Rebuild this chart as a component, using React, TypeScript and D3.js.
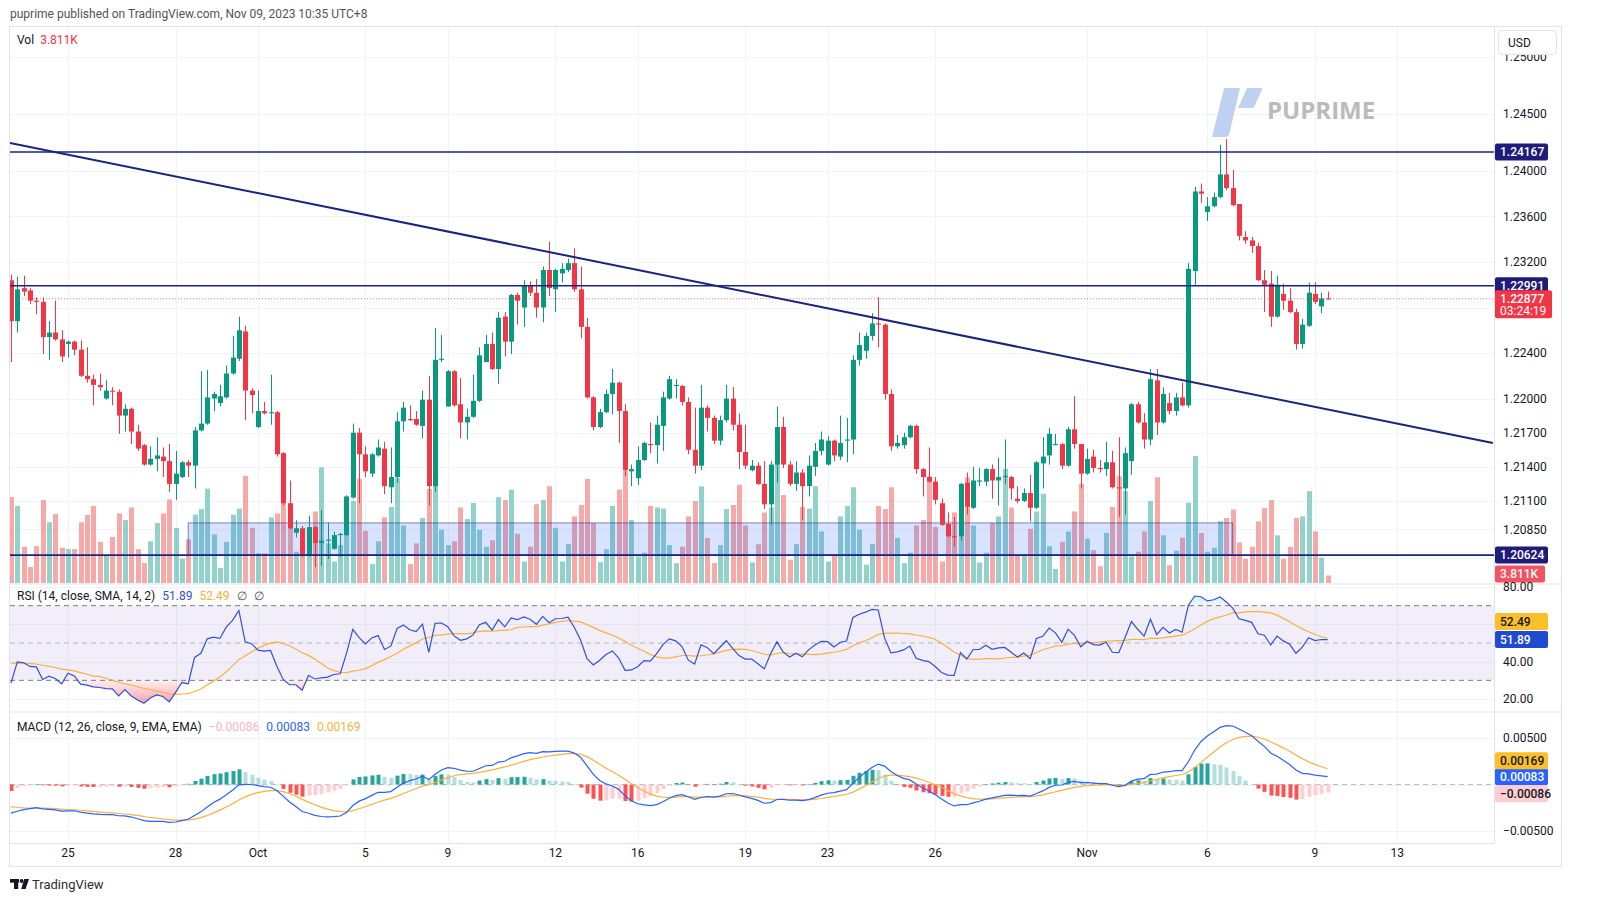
import React, { useEffect } from 'react';
import * as d3 from 'd3';

// GBPUSD 4H candles (oldest first)
const opens = [
  1.2304, 1.2268, 1.2297, 1.2295, 1.2286, 1.2285, 1.2254, 1.2258, 1.2252, 1.2248,
  1.2250, 1.2243, 1.2220, 1.2217, 1.2212, 1.2200, 1.2207, 1.2206, 1.2185, 1.2191,
  1.2171, 1.2159, 1.2142, 1.2147, 1.2149, 1.2145, 1.2125, 1.2131, 1.2144, 1.2141,
  1.2172, 1.2178, 1.2200, 1.2196, 1.2201, 1.2222, 1.2235, 1.2259, 1.2207, 1.2175,
  1.2189, 1.2187, 1.2188, 1.2152, 1.2108, 1.2082, 1.2086, 1.2062, 1.2087, 1.2073,
  1.2075, 1.2068, 1.2080, 1.2080, 1.2113, 1.2170, 1.2151, 1.2134, 1.2150, 1.2156,
  1.2122, 1.2131, 1.2180, 1.2182, 1.2182, 1.2176, 1.2199, 1.2123, 1.2234, 1.2193,
  1.2224, 1.2195, 1.2179, 1.2184, 1.2198, 1.2232, 1.2248, 1.2226, 1.2272, 1.2250,
  1.2291, 1.2280, 1.2299, 1.2293, 1.2280, 1.2313, 1.2296, 1.2310, 1.2313, 1.2319,
  1.2296, 1.2263, 1.2201, 1.2175, 1.2188, 1.2204, 1.2214, 1.2189, 1.2136, 1.2130,
  1.2146, 1.2160, 1.2159, 1.2176, 1.2200, 1.2211, 1.2211, 1.2197, 1.2155, 1.2141,
  1.2192, 1.2183, 1.2163, 1.2181, 1.2200, 1.2177, 1.2153, 1.2137, 1.2141, 1.2125,
  1.2107, 1.2142, 1.2175, 1.2142, 1.2125, 1.2135, 1.2123, 1.2140, 1.2154, 1.2142,
  1.2163, 1.2149, 1.2163, 1.2164, 1.2234, 1.2242, 1.2255, 1.2266, 1.2265, 1.2204,
  1.2158, 1.2159, 1.2166, 1.2176, 1.2138, 1.2131, 1.2127, 1.2108, 1.2090, 1.2079,
  1.2079, 1.2126, 1.2104, 1.2127, 1.2127, 1.2138, 1.2128, 1.2131, 1.2131, 1.2112,
  1.2110, 1.2117, 1.2104, 1.2143, 1.2150, 1.2159, 1.2160, 1.2141, 1.2173, 1.2160,
  1.2134, 1.2149, 1.2139, 1.2138, 1.2144, 1.2122, 1.2121, 1.2145, 1.2195, 1.2179,
  1.2164, 1.2216, 1.2179, 1.2196, 1.2189, 1.2201, 1.2194, 1.2312, 1.2382, 1.2364,
  1.2369, 1.2377, 1.2397, 1.2385, 1.2371, 1.2342, 1.2339, 1.2334, 1.2304, 1.2301,
  1.2272, 1.2292, 1.2286, 1.2276, 1.2248, 1.2264, 1.2292, 1.2281, 1.2288,
];
const highs = [
  1.2309, 1.2307, 1.2308, 1.2297, 1.2289, 1.2289, 1.2268, 1.2286, 1.2260, 1.2251,
  1.2251, 1.2251, 1.2245, 1.2221, 1.2222, 1.2216, 1.2210, 1.2208, 1.2195, 1.2192,
  1.2177, 1.2160, 1.2158, 1.2166, 1.2157, 1.2160, 1.2154, 1.2145, 1.2146, 1.2175,
  1.2224, 1.2225, 1.2206, 1.2212, 1.2229, 1.2255, 1.2272, 1.2264, 1.2209, 1.2207,
  1.2197, 1.2221, 1.2189, 1.2153, 1.2128, 1.2093, 1.2088, 1.2097, 1.2088, 1.2102,
  1.2091, 1.2083, 1.2082, 1.2115, 1.2178, 1.2174, 1.2158, 1.2152, 1.2164, 1.2162,
  1.2157, 1.2188, 1.2197, 1.2194, 1.2189, 1.2207, 1.2220, 1.2262, 1.2256, 1.2225,
  1.2225, 1.2218, 1.2191, 1.2221, 1.2245, 1.2256, 1.2258, 1.2276, 1.2276, 1.2292,
  1.2293, 1.2304, 1.2303, 1.2305, 1.2316, 1.2338, 1.2314, 1.2319, 1.2323, 1.2332,
  1.2316, 1.2271, 1.2202, 1.2191, 1.2208, 1.2226, 1.2215, 1.2195, 1.2142, 1.2158,
  1.2162, 1.2179, 1.2185, 1.2206, 1.2220, 1.2217, 1.2212, 1.2201, 1.2192, 1.2212,
  1.2194, 1.2185, 1.2185, 1.2212, 1.2210, 1.2187, 1.2177, 1.2146, 1.2144, 1.2145,
  1.2145, 1.2193, 1.2184, 1.2145, 1.2145, 1.2138, 1.2150, 1.2161, 1.2171, 1.2167,
  1.2164, 1.2185, 1.2183, 1.2238, 1.2258, 1.2258, 1.2275, 1.2289, 1.2266, 1.2208,
  1.2168, 1.2170, 1.2177, 1.2177, 1.2139, 1.2157, 1.2131, 1.2112, 1.2100, 1.2096,
  1.2126, 1.2135, 1.2140, 1.2139, 1.2139, 1.2142, 1.2148, 1.2164, 1.2132, 1.2123,
  1.2121, 1.2133, 1.2145, 1.2166, 1.2174, 1.2169, 1.2161, 1.2175, 1.2202, 1.2160,
  1.2156, 1.2155, 1.2146, 1.2162, 1.2154, 1.2166, 1.2157, 1.2196, 1.2197, 1.2187,
  1.2226, 1.2226, 1.2210, 1.2205, 1.2205, 1.2214, 1.2319, 1.2386, 1.2389, 1.2377,
  1.2381, 1.2423, 1.2428, 1.2401, 1.2371, 1.2347, 1.2342, 1.2337, 1.2313, 1.2312,
  1.2308, 1.2301, 1.2297, 1.2279, 1.2270, 1.2302, 1.2302, 1.2293, 1.2294,
];
const lows = [
  1.2232, 1.2258, 1.2290, 1.2283, 1.2274, 1.2239, 1.2234, 1.2251, 1.2232, 1.2236,
  1.2238, 1.2219, 1.2214, 1.2194, 1.2207, 1.2199, 1.2194, 1.2169, 1.2171, 1.2160,
  1.2154, 1.2141, 1.2141, 1.2136, 1.2131, 1.2118, 1.2111, 1.2130, 1.2131, 1.2121,
  1.2171, 1.2177, 1.2189, 1.2193, 1.2200, 1.2221, 1.2233, 1.2181, 1.2187, 1.2174,
  1.2186, 1.2177, 1.2149, 1.2106, 1.2085, 1.2078, 1.2061, 1.2061, 1.2052, 1.2053,
  1.2059, 1.2067, 1.2061, 1.2079, 1.2112, 1.2108, 1.2131, 1.2131, 1.2149, 1.2116,
  1.2108, 1.2126, 1.2171, 1.2180, 1.2176, 1.2165, 1.2106, 1.2118, 1.2232, 1.2193,
  1.2193, 1.2165, 1.2164, 1.2183, 1.2197, 1.2232, 1.2225, 1.2213, 1.2237, 1.2239,
  1.2265, 1.2263, 1.2290, 1.2271, 1.2267, 1.2290, 1.2276, 1.2302, 1.2311, 1.2294,
  1.2253, 1.2200, 1.2172, 1.2174, 1.2187, 1.2186, 1.2161, 1.2132, 1.2123, 1.2124,
  1.2145, 1.2152, 1.2143, 1.2154, 1.2199, 1.2200, 1.2194, 1.2151, 1.2134, 1.2137,
  1.2171, 1.2160, 1.2159, 1.2179, 1.2172, 1.2138, 1.2138, 1.2136, 1.2124, 1.2103,
  1.2089, 1.2126, 1.2139, 1.2123, 1.2119, 1.2093, 1.2114, 1.2132, 1.2150, 1.2141,
  1.2145, 1.2146, 1.2144, 1.2151, 1.2229, 1.2235, 1.2251, 1.2245, 1.2199, 1.2154,
  1.2156, 1.2156, 1.2165, 1.2134, 1.2114, 1.2126, 1.2107, 1.2088, 1.2078, 1.2070,
  1.2075, 1.2098, 1.2103, 1.2123, 1.2123, 1.2112, 1.2106, 1.2125, 1.2111, 1.2108,
  1.2109, 1.2092, 1.2103, 1.2121, 1.2142, 1.2159, 1.2138, 1.2140, 1.2156, 1.2121,
  1.2133, 1.2135, 1.2135, 1.2132, 1.2121, 1.2096, 1.2098, 1.2133, 1.2178, 1.2156,
  1.2159, 1.2168, 1.2178, 1.2186, 1.2185, 1.2193, 1.2192, 1.2300, 1.2372, 1.2356,
  1.2368, 1.2376, 1.2383, 1.2369, 1.2339, 1.2336, 1.2328, 1.2303, 1.2276, 1.2263,
  1.2271, 1.2278, 1.2275, 1.2243, 1.2244, 1.2263, 1.2283, 1.2275, 1.2287,
];
const closes = [
  1.2268, 1.2296, 1.2294, 1.2286, 1.2285, 1.2254, 1.2258, 1.2252, 1.2237, 1.2250,
  1.2243, 1.2220, 1.2217, 1.2212, 1.2210, 1.2207, 1.2206, 1.2185, 1.2191, 1.2171,
  1.2156, 1.2142, 1.2147, 1.2150, 1.2145, 1.2125, 1.2134, 1.2144, 1.2141, 1.2172,
  1.2178, 1.2201, 1.2204, 1.2202, 1.2222, 1.2236, 1.2260, 1.2207, 1.2203, 1.2189,
  1.2187, 1.2188, 1.2151, 1.2108, 1.2086, 1.2086, 1.2062, 1.2087, 1.2073, 1.2075,
  1.2076, 1.2080, 1.2081, 1.2114, 1.2170, 1.2151, 1.2136, 1.2151, 1.2157, 1.2123,
  1.2131, 1.2180, 1.2192, 1.2181, 1.2177, 1.2199, 1.2123, 1.2234, 1.2235, 1.2224,
  1.2194, 1.2179, 1.2184, 1.2198, 1.2238, 1.2248, 1.2226, 1.2271, 1.2250, 1.2291,
  1.2286, 1.2299, 1.2293, 1.2280, 1.2313, 1.2297, 1.2313, 1.2314, 1.2319, 1.2296,
  1.2263, 1.2201, 1.2175, 1.2188, 1.2204, 1.2214, 1.2189, 1.2137, 1.2138, 1.2146,
  1.2161, 1.2159, 1.2177, 1.2201, 1.2217, 1.2212, 1.2197, 1.2155, 1.2141, 1.2192,
  1.2183, 1.2163, 1.2181, 1.2200, 1.2177, 1.2153, 1.2141, 1.2141, 1.2125, 1.2107,
  1.2142, 1.2175, 1.2142, 1.2125, 1.2135, 1.2123, 1.2141, 1.2154, 1.2164, 1.2163,
  1.2150, 1.2161, 1.2164, 1.2234, 1.2247, 1.2255, 1.2266, 1.2265, 1.2204, 1.2158,
  1.2161, 1.2166, 1.2176, 1.2138, 1.2131, 1.2127, 1.2111, 1.2089, 1.2079, 1.2078,
  1.2125, 1.2105, 1.2128, 1.2128, 1.2138, 1.2128, 1.2131, 1.2132, 1.2121, 1.2110,
  1.2117, 1.2104, 1.2144, 1.2149, 1.2169, 1.2160, 1.2141, 1.2173, 1.2160, 1.2134,
  1.2147, 1.2139, 1.2138, 1.2144, 1.2122, 1.2121, 1.2152, 1.2195, 1.2179, 1.2164,
  1.2217, 1.2179, 1.2204, 1.2189, 1.2201, 1.2194, 1.2314, 1.2382, 1.2380, 1.2369,
  1.2377, 1.2397, 1.2385, 1.2370, 1.2343, 1.2339, 1.2334, 1.2304, 1.2300, 1.2272,
  1.2300, 1.2286, 1.2276, 1.2248, 1.2265, 1.2293, 1.2285, 1.2288, 1.22877,
];
// volume in thousands
const volumes = [
  43.6, 39.1, 18.4, 8.1, 18.7, 42.1, 30.8, 35.0, 17.9, 17.2,
  17.2, 30.8, 34.5, 39.1, 20.9, 14.3, 23.4, 35.3, 32.0, 38.3,
  17.2, 10.1, 21.2, 30.5, 35.3, 42.4, 28.0, 12.3, 22.2, 34.7,
  37.5, 47.9, 24.7, 7.6, 20.9, 34.7, 37.8, 54.4, 28.0, 15.1,
  15.1, 33.3, 35.3, 51.6, 40.0, 15.9, 20.4, 28.0, 36.3, 58.7,
  20.1, 10.9, 19.2, 38.3, 41.6, 52.9, 26.4, 9.6, 21.2, 33.3,
  38.6, 53.2, 29.2, 9.6, 20.1, 33.0, 47.8, 71.0, 27.0, 19.2,
  21.2, 38.3, 32.5, 40.6, 27.0, 18.4, 21.7, 43.6, 42.1, 47.4,
  25.0, 10.9, 18.4, 40.0, 42.1, 49.1, 28.0, 10.9, 19.7, 33.8,
  39.6, 52.9, 30.5, 10.6, 17.2, 39.1, 47.4, 56.9, 32.0, 13.4,
  15.4, 39.1, 38.3, 37.8, 19.2, 10.1, 18.4, 33.8, 41.6, 49.1,
  22.9, 10.1, 19.2, 37.5, 39.6, 49.9, 29.2, 10.4, 19.7, 35.8,
  38.3, 65.7, 44.6, 11.8, 19.7, 38.6, 37.8, 49.1, 26.2, 10.9,
  14.6, 33.8, 39.1, 48.6, 27.0, 9.3, 19.7, 39.1, 37.5, 48.6,
  22.9, 10.1, 15.4, 29.2, 32.0, 54.1, 28.4, 10.9, 29.2, 35.8,
  40.0, 53.6, 29.2, 10.4, 15.4, 30.5, 33.8, 57.9, 38.3, 14.3,
  14.6, 27.5, 36.3, 45.3, 18.7, 7.1, 20.9, 26.2, 36.3, 50.4,
  22.5, 16.7, 8.5, 25.5, 38.6, 54.1, 46.6, 13.4, 15.9, 26.2,
  41.6, 53.7, 24.2, 9.0, 16.4, 23.0, 40.8, 64.5, 25.4, 15.9,
  17.9, 31.3, 33.0, 37.3, 20.6, 12.3, 18.4, 31.3, 38.0, 42.1,
  24.2, 12.3, 18.4, 33.0, 33.8, 46.6, 26.2, 12.9, 3.811,
];

// candle index -> date label
const timeTicks = [
  { i: 9, label: '25' }, { i: 26, label: '28' }, { i: 39, label: 'Oct' }, { i: 56, label: '5' },
  { i: 69, label: '9' }, { i: 86, label: '12' }, { i: 99, label: '16' }, { i: 116, label: '19' },
  { i: 129, label: '23' }, { i: 146, label: '26' }, { i: 170, label: 'Nov' }, { i: 189, label: '6' },
  { i: 206, label: '9' }, { i: 219, label: '13' },
];
const priceTicks = [1.25, 1.245, 1.24, 1.236, 1.232, 1.228, 1.224, 1.22, 1.217, 1.214, 1.211, 1.2085, 1.206];
const hiddenPriceLabels = [1.228, 1.206];
const rsiTicks = [80, 60, 40, 20];
const macdTicks = [0.005, 0, -0.005];

// drawings
const levels = [1.24167, 1.22991, 1.20624];
const trendLine = [{ i: -0.16, p: 1.24246 }, { i: 234.1, p: 1.2161 }];
const zone = { i0: 28, i1: 193, pLow: 1.20625, pHigh: 1.20907 };

// indicator state before the first visible candle, read from the left edge
const rsiSeed = { up: 0.00035, down: 0.0006, ma: 40 };
const macdSeed = { fast: 1.2305, slow: 1.2335, signal: -0.0022 };

// values shown in the legends / axis badges
const lastVol = '3.811K';
const lastRsi = '51.89';
const lastRsiMa = '52.49';
const lastMacd = '0.00083';
const lastSignal = '0.00169';
const lastHist = '\u22120.00086';
const countdown = '03:24:19';

const UP = '#089981';
const DOWN = '#F23645';
const NAVY = '#1a237e';
const GRID = '#f0f3fa';
const BORDER = '#e0e3eb';
const TXT = '#131722';
const RSI_COL = '#3150d6';
const MA_COL = '#f9b13b';
const MACD_COL = '#2962ff';
const FONT = "Roboto, 'Liberation Sans', Arial, sans-serif";

const L = 10;
const R = 1494;
const mainTop = 27;
const mainBot = 583;
const rsiTop = 585;
const rsiBot = 711;
const macdTop = 713;
const macdBot = 843;

function computeRsi() {
  let up = rsiSeed.up;
  let down = rsiSeed.down;
  let prev = opens[0];
  return closes.map(c => {
    const ch = c - prev;
    prev = c;
    up = (up * 13 + Math.max(ch, 0)) / 14;
    down = (down * 13 + Math.max(-ch, 0)) / 14;
    return down === 0 ? 100 : 100 - 100 / (1 + up / down);
  });
}

function sma(vals: number[], n: number, seed: number) {
  return vals.map((_, i) => {
    let s = 0;
    for (let k = i - n + 1; k <= i; k++) s += k >= 0 ? vals[k] : seed;
    return s / n;
  });
}

function computeMacd() {
  let f = macdSeed.fast;
  let s = macdSeed.slow;
  let sig = macdSeed.signal;
  const macd: number[] = [];
  const signal: number[] = [];
  closes.forEach(c => {
    f += (c - f) * (2 / 13);
    s += (c - s) * (2 / 27);
    const m = f - s;
    sig += (m - sig) * (2 / 10);
    macd.push(m);
    signal.push(sig);
  });
  return { macd, signal, hist: macd.map((m, i) => m - signal[i]) };
}

const Badge = ({ y, bg, color, text, w = 53 }: { y: number; bg: string; color: string; text: string; w?: number }) => (
  <g>
    <rect x={R + 1} y={y - 8.5} width={w} height={17} rx={2} fill={bg} />
    <text x={R + 6} y={y + 4.2} fontSize={12} fill={color} fontWeight={500}>{text}</text>
  </g>
);

export default function App() {
  useEffect(() => {
    document.body.style.margin = '0';
    document.body.style.overflow = 'hidden';
  }, []);

  const x = d3.scaleLinear().domain([0, 219]).range([11, 11 + 219 * 6.33]);
  const y = d3.scaleLinear().domain([1.2085, 1.25]).range([529.4, 57.2]);
  const yVol = d3.scaleLinear().domain([0, 100]).range([mainBot, mainBot - 197]);
  const yRsi = d3.scaleLinear().domain([20, 80]).range([699, 587]);
  const yMacd = d3.scaleLinear().domain([-0.005, 0.005]).range([831, 738]);

  const rsi = computeRsi();
  const rsiMa = sma(rsi, 14, rsiSeed.ma);
  const { macd, signal, hist } = computeMacd();

  const lineIdx = d3.line<number>().x((_, i) => x(i)).curve(d3.curveLinear);
  const rsiPath = lineIdx.y(d => yRsi(d))(rsi) || '';
  const rsiMaPath = lineIdx.y(d => yRsi(d))(rsiMa) || '';
  const macdPath = lineIdx.y(d => yMacd(d))(macd) || '';
  const sigPath = lineIdx.y(d => yMacd(d))(signal) || '';
  const osArea = d3.area<number>().x((_, i) => x(i)).y0(yRsi(30)).y1(d => yRsi(Math.min(d, 30)))(rsi) || '';
  const obArea = d3.area<number>().x((_, i) => x(i)).y0(yRsi(70)).y1(d => yRsi(Math.max(d, 70)))(rsi) || '';

  const histColor = (i: number) => {
    const h = hist[i];
    const prev = i > 0 ? hist[i - 1] : h;
    if (h >= 0) return prev < h ? '#26a69a' : '#b2dfdb';
    return prev < h ? '#ffcdd2' : '#ff5252';
  };

  const cx = (i: number) => Math.round(x(i));
  const lastY = y(closes[closes.length - 1]);

  return (
    <svg width={1600} height={919} style={{ display: 'block', fontFamily: FONT }}>
      <defs>
        <clipPath id="mainClip"><rect x={L} y={mainTop} width={R - L} height={mainBot - mainTop} /></clipPath>
        <clipPath id="rsiClip"><rect x={L} y={rsiTop} width={R - L} height={rsiBot - rsiTop} /></clipPath>
        <clipPath id="macdClip"><rect x={L} y={macdTop} width={R - L} height={macdBot - macdTop} /></clipPath>
        <linearGradient id="osGrad" gradientUnits="userSpaceOnUse" x1={0} x2={0} y1={yRsi(30)} y2={yRsi(18)}>
          <stop offset="0" stopColor="#f23645" stopOpacity={0.08} />
          <stop offset="1" stopColor="#f23645" stopOpacity={0.45} />
        </linearGradient>
        <linearGradient id="obGrad" gradientUnits="userSpaceOnUse" x1={0} x2={0} y1={yRsi(70)} y2={yRsi(82)}>
          <stop offset="0" stopColor="#089981" stopOpacity={0.05} />
          <stop offset="1" stopColor="#089981" stopOpacity={0.35} />
        </linearGradient>
      </defs>
      <rect width={1600} height={919} fill="#fff" />

      <text x={10} y={18} fontSize={12} fill="#50535e">puprime published on TradingView.com, Nov 09, 2023 10:35 UTC+8</text>

      {/* frame and separators */}
      <rect x={9.5} y={26.5} width={1552} height={840} fill="none" stroke={BORDER} />
      <line x1={9.5} x2={1561.5} y1={584} y2={584} stroke={BORDER} />
      <line x1={9.5} x2={1561.5} y1={712} y2={712} stroke={BORDER} />
      <line x1={9.5} x2={R} y1={843.5} y2={843.5} stroke={BORDER} />
      <line x1={R + 0.5} x2={R + 0.5} y1={26.5} y2={843.5} stroke={BORDER} />

      {/* vertical grid */}
      {timeTicks.filter(t => x(t.i) < R).map(t => (
        <line key={t.i} x1={cx(t.i) + 0.5} x2={cx(t.i) + 0.5} y1={mainTop} y2={macdBot} stroke={GRID} />
      ))}
      {/* price grid */}
      {priceTicks.map(p => (
        <line key={p} x1={L} x2={R} y1={Math.round(y(p)) + 0.5} y2={Math.round(y(p)) + 0.5} stroke={GRID} />
      ))}
      {rsiTicks.map(v => (
        <line key={v} x1={L} x2={R} y1={Math.round(yRsi(v)) + 0.5} y2={Math.round(yRsi(v)) + 0.5} stroke={GRID} />
      ))}
      {macdTicks.map(v => (
        <line key={v} x1={L} x2={R} y1={Math.round(yMacd(v)) + 0.5} y2={Math.round(yMacd(v)) + 0.5} stroke={GRID} />
      ))}

      {/* main pane */}
      <g clipPath="url(#mainClip)">
        {/* watermark */}
        <g opacity={0.9}>
          <path d="M1224,88 L1240,88 L1229,135 Q1228,137 1225,137 L1212,137 Z" fill="#b8cdf0" />
          <path d="M1247,88 L1262,88 Q1262,90 1261,92 L1254,107 Q1253,108 1251,108 L1238,108 Z" fill="#b8cdf0" />
          <text x={1267} y={119} fontSize={24} fontWeight={700} fill="#b4b4b4" fontFamily="'Open Sans', Roboto, sans-serif">PUPRIME</text>
        </g>

        {volumes.map((v, i) => (
          <rect key={i} x={cx(i) - 2} y={yVol(v)} width={5} height={mainBot - yVol(v)}
            fill={closes[i] >= opens[i] ? 'rgba(38,166,154,0.5)' : 'rgba(239,83,80,0.5)'} />
        ))}

        <rect x={x(zone.i0)} y={y(zone.pHigh)} width={x(zone.i1) - x(zone.i0)} height={y(zone.pLow) - y(zone.pHigh)}
          fill="rgba(41,98,255,0.18)" stroke="rgba(40,40,130,0.55)" strokeWidth={1} />

        {closes.map((c, i) => {
          const o = opens[i];
          const col = c >= o ? UP : DOWN;
          const top = y(Math.max(o, c));
          const bot = y(Math.min(o, c));
          return (
            <g key={i}>
              <line x1={cx(i) + 0.5} x2={cx(i) + 0.5} y1={y(highs[i])} y2={y(lows[i])} stroke={col} />
              <rect x={cx(i) - 2} y={top} width={5} height={Math.max(1, bot - top)} fill={col} />
            </g>
          );
        })}

        <line x1={L} x2={R} y1={lastY} y2={lastY} stroke={DOWN} strokeOpacity={0.7} strokeDasharray="1 2" />

        {levels.map(p => (
          <line key={p} x1={L} x2={R} y1={y(p)} y2={y(p)} stroke={NAVY} strokeWidth={1.6} />
        ))}
        <line x1={x(trendLine[0].i)} y1={y(trendLine[0].p)} x2={x(trendLine[1].i)} y2={y(trendLine[1].p)}
          stroke={NAVY} strokeWidth={2} />
      </g>

      <text x={17} y={44} fontSize={12} fill={TXT}>Vol<tspan dx={6} fill={DOWN}>{lastVol}</tspan></text>

      {/* price axis */}
      {priceTicks.filter(p => !hiddenPriceLabels.includes(p)).map(p => (
        <text key={p} x={1503} y={y(p) + 4.2} fontSize={12} fill={TXT}>{p.toFixed(5)}</text>
      ))}
      <g>
        <rect x={1498.5} y={30.5} width={58} height={24} rx={4} fill="#fff" stroke={BORDER} />
        <text x={1508} y={47} fontSize={12} fill={TXT}>USD</text>
      </g>
      {levels.map(p => (
        <Badge key={p} y={y(p)} bg="#1f1b78" color="#fff" text={p.toFixed(5)} />
      ))}
      <g>
        <rect x={R + 1} y={lastY - 8.5} width={57} height={28} rx={2} fill={DOWN} />
        <text x={R + 6} y={lastY + 4.2} fontSize={12} fill="#fff" fontWeight={500}>{closes[closes.length - 1].toFixed(5)}</text>
        <text x={R + 6} y={lastY + 16.5} fontSize={12} fill="#fff">{countdown}</text>
      </g>
      <Badge y={574} bg="#f15361" color="#fff" text={lastVol} w={50} />

      {/* RSI pane */}
      <rect x={L} y={yRsi(70)} width={R - L} height={yRsi(30) - yRsi(70)} fill="rgba(126,87,194,0.1)" />
      <g clipPath="url(#rsiClip)">
        <path d={osArea} fill="url(#osGrad)" />
        <path d={obArea} fill="url(#obGrad)" />
        <line x1={L} x2={R} y1={yRsi(70)} y2={yRsi(70)} stroke="#787b86" strokeDasharray="5 4" />
        <line x1={L} x2={R} y1={yRsi(50)} y2={yRsi(50)} stroke="#787b86" strokeOpacity={0.5} strokeDasharray="5 4" />
        <line x1={L} x2={R} y1={yRsi(30)} y2={yRsi(30)} stroke="#787b86" strokeDasharray="5 4" />
        <path d={rsiMaPath} fill="none" stroke={MA_COL} strokeWidth={1.2} />
        <path d={rsiPath} fill="none" stroke={RSI_COL} strokeWidth={1.2} />
      </g>
      <text x={17} y={600} fontSize={12} fill={TXT}>
        RSI (14, close, SMA, 14, 2)
        <tspan dx={7} fill={RSI_COL}>{lastRsi}</tspan>
        <tspan dx={7} fill={MA_COL}>{lastRsiMa}</tspan>
        <tspan dx={7} fill="#50535e">{'\u2205'}</tspan>
        <tspan dx={7} fill="#50535e">{'\u2205'}</tspan>
      </text>
      {rsiTicks.filter(v => v !== 60).map(v => (
        <text key={v} x={1503} y={yRsi(v) + 4.2} fontSize={12} fill={TXT}>{v.toFixed(2)}</text>
      ))}
      <Badge y={yRsi(+lastRsi)} bg="#1e4bd2" color="#fff" text={lastRsi} />
      <Badge y={yRsi(+lastRsi) - 18} bg="#fbbf2a" color={TXT} text={lastRsiMa} />

      {/* MACD pane */}
      <g clipPath="url(#macdClip)">
        <line x1={L} x2={R} y1={yMacd(0)} y2={yMacd(0)} stroke="#787b86" strokeOpacity={0.5} strokeDasharray="5 4" />
        {hist.map((h, i) => (
          <rect key={i} x={cx(i) - 1.5} y={Math.min(yMacd(h), yMacd(0))} width={4}
            height={Math.max(0.5, Math.abs(yMacd(h) - yMacd(0)))} fill={histColor(i)} />
        ))}
        <path d={sigPath} fill="none" stroke={MA_COL} strokeWidth={1.2} />
        <path d={macdPath} fill="none" stroke={MACD_COL} strokeWidth={1.2} />
      </g>
      <text x={17} y={731} fontSize={12} fill={TXT}>
        MACD (12, 26, close, 9, EMA, EMA)
        <tspan dx={7} fill="#f7b6bf">{lastHist}</tspan>
        <tspan dx={7} fill={MACD_COL}>{lastMacd}</tspan>
        <tspan dx={7} fill={MA_COL}>{lastSignal}</tspan>
      </text>
      {macdTicks.filter(v => v !== 0).map(v => (
        <text key={v} x={1503} y={yMacd(v) + 4.2} fontSize={12} fill={TXT}>{v < 0 ? '\u2212' : ''}{Math.abs(v).toFixed(5)}</text>
      ))}
      <Badge y={yMacd(+lastMacd)} bg={MACD_COL} color="#fff" text={lastMacd} />
      <Badge y={yMacd(+lastMacd) - 16} bg="#fbbf2a" color={TXT} text={lastSignal} />
      <Badge y={yMacd(+lastMacd) + 17} bg="#ffcdd2" color={TXT} text={lastHist} />

      {/* time axis */}
      {timeTicks.map(t => (
        <text key={t.i} x={x(t.i)} y={857} fontSize={12} fill={TXT} textAnchor="middle">{t.label}</text>
      ))}

      {/* TradingView logo */}
      <g fill="#131722">
        <rect x={10} y={879} width={9} height={3.6} />
        <rect x={14} y={879} width={4.2} height={10} />
        <circle cx={21.6} cy={881} r={1.9} />
        <path d="M24.2,879 L29,879 L25.6,889 L21.2,889 Z" />
      </g>
      <text x={32} y={889} fontSize={13} fill="#2a2e39">TradingView</text>
    </svg>
  );
}
